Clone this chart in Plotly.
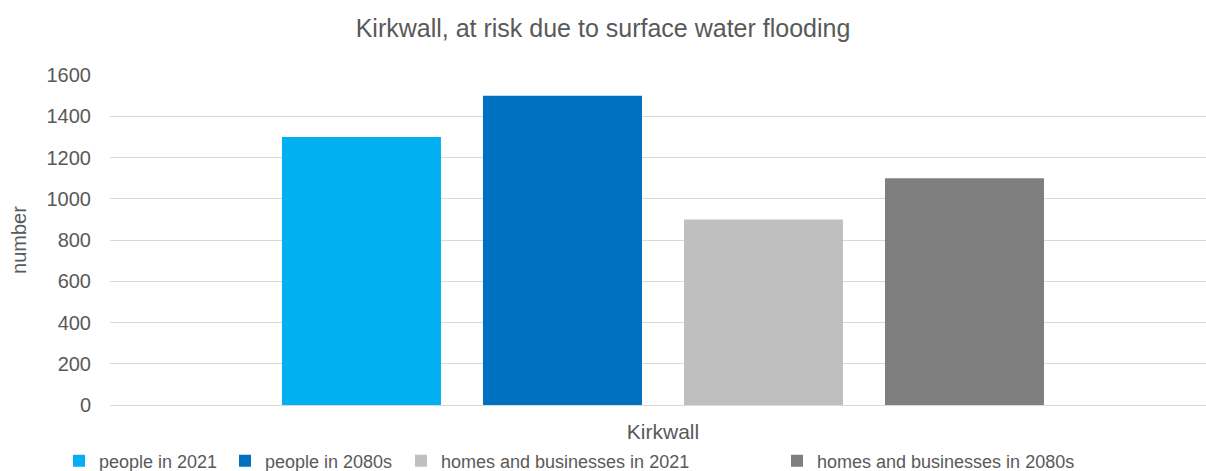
import plotly.graph_objects as go

categories = ["Kirkwall"]
series_names = ["people in 2021", "people in 2080s",
                "homes and businesses in 2021", "homes and businesses in 2080s"]
series_values = [[1300], [1500], [900], [1100]]
series_colors = ["#00B0F0", "#0070C0", "#BFBFBF", "#7F7F7F"]
y_ticks = [0, 200, 400, 600, 800, 1000, 1200, 1400, 1600]

FONT = "Liberation Sans, Arial, sans-serif"
TXT = "#595959"

PL, PR, PT, PB = 110, 0, 75, 66
PW = 1206 - PL - PR
PH = 471 - PT - PB

legend_ids = ["legend", "legend2", "legend3", "legend4"]
# left pixel position of each legend item's text in the picture
legend_text_px = [99, 265, 441, 817]

fig = go.Figure()
for name, vals, col, lid in zip(series_names, series_values, series_colors, legend_ids):
    fig.add_trace(go.Bar(x=categories, y=vals, name=name, legend=lid,
                         marker=dict(color=col, line=dict(width=0))))

legend_y = -(461 - (PT + PH)) / PH
legends = {}
for lid, tx in zip(legend_ids, legend_text_px):
    legends[lid] = dict(orientation="h", x=(tx - 40 - PL) / PW, xanchor="left",
                        y=legend_y, yanchor="middle", bgcolor="rgba(0,0,0,0)",
                        borderwidth=0, font=dict(size=18, color=TXT, family=FONT))

fig.update_layout(
    width=1206, height=471,
    margin=dict(l=PL, r=PR, t=PT, b=PB, pad=0, autoexpand=False),
    paper_bgcolor="white", plot_bgcolor="white",
    font=dict(family=FONT, color=TXT, size=18),
    title=dict(text="Kirkwall, at risk due to surface water flooding",
               x=0.5, xanchor="center", y=1 - 28 / 471, yanchor="middle",
               font=dict(size=25, color=TXT, family=FONT)),
    barmode="group", bargap=0.273, bargroupgap=0.209,
    showlegend=True,
    xaxis=dict(range=[-0.5, 0.491], showgrid=False, showline=False, zeroline=False,
               tickfont=dict(size=21, color=TXT), ticks="", ticklabelstandoff=12),
    yaxis=dict(range=[0, 1600], tickvals=y_ticks, showgrid=True, gridcolor="#D9D9D9",
               gridwidth=1.3, zeroline=True, zerolinecolor="#D9D9D9", zerolinewidth=1.3,
               showline=False, tickfont=dict(size=20, color=TXT), ticks="",
               ticklabelstandoff=18,
               title=dict(text="number", font=dict(size=20, color=TXT), standoff=14)),
    **legends,
)

fig.write_html("out.html")
